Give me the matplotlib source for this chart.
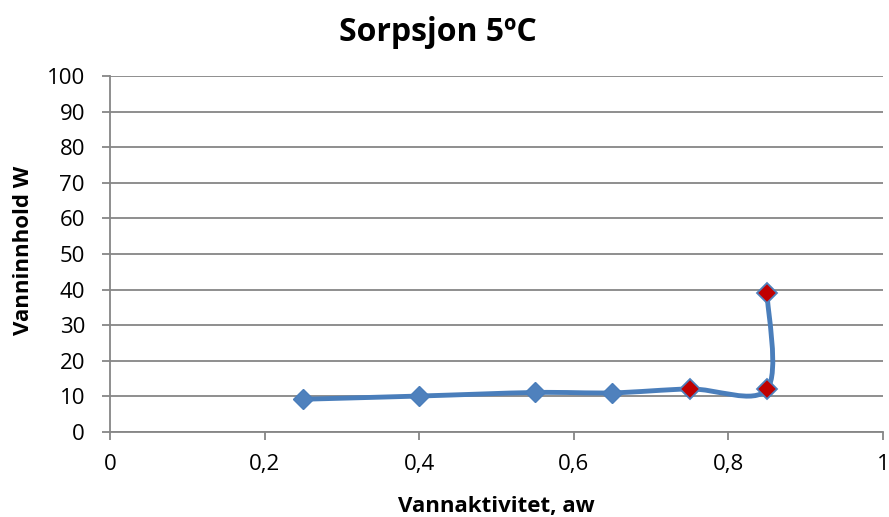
import numpy as np
import matplotlib.pyplot as plt
from matplotlib.path import Path
from matplotlib.patches import PathPatch

# data
aw = [0.25, 0.40, 0.55, 0.65, 0.75, 0.85, 0.85]
w = [9.2, 10.1, 11.1, 11.0, 12.1, 12.0, 39.0]
red_idx = [4, 5, 6]

plt.rcParams['font.family'] = ['Open Sans', 'DejaVu Sans']

fig = plt.figure(figsize=(8.89, 5.17), dpi=100)
ax = fig.add_axes([110 / 889, 85 / 517, 773 / 889, 356 / 517])

# Excel-like smoothed line (Catmull-Rom as cubic Bezier)
pts = np.column_stack([aw, w])
n = len(pts)
verts = [pts[0]]
codes = [Path.MOVETO]
for i in range(n - 1):
    p0 = pts[i - 1] if i > 0 else pts[i]
    p1 = pts[i]
    p2 = pts[i + 1]
    p3 = pts[i + 2] if i + 2 < n else pts[i + 1]
    c1 = p1 + (p2 - p0) / 6
    c2 = p2 - (p3 - p1) / 6
    verts += [c1, c2, p2]
    codes += [Path.CURVE4] * 3
ax.add_patch(PathPatch(Path(verts, codes), fill=False, edgecolor='#4A7EBB',
                       lw=3.5, zorder=3, capstyle='round', joinstyle='round'))

blue_idx = [i for i in range(n) if i not in red_idx]
ax.plot([aw[i] for i in blue_idx], [w[i] for i in blue_idx], ls='none', marker='D',
        ms=10.5, mfc='#4F81BD', mec='#4A7EBB', mew=1, zorder=4)
ax.plot([aw[i] for i in red_idx], [w[i] for i in red_idx], ls='none', marker='D',
        ms=10.5, mfc='#C00000', mec='#4F81BD', mew=1.3, zorder=4)

ax.set_xlim(0, 1)
ax.set_ylim(0, 100)
ax.set_xticks(np.arange(0, 1.01, 0.2))
ax.set_xticklabels(['0', '0,2', '0,4', '0,6', '0,8', '1'])
ax.set_yticks(range(0, 101, 10))
ax.yaxis.grid(True, color='#868686', lw=1.3)
ax.set_axisbelow(True)
for s in ['top', 'right']:
    ax.spines[s].set_visible(False)
for s in ['left', 'bottom']:
    ax.spines[s].set_color('#868686')
    ax.spines[s].set_linewidth(1.3)
ax.tick_params(axis='both', colors='#868686', labelcolor='black', labelsize=16,
               length=6, width=1.3, direction='out')
ax.tick_params(axis='x', pad=10)
ax.tick_params(axis='y', pad=12)

fig.text(438 / 889, 1 - 41 / 517, 'Sorpsjon 5ºC', fontsize=23, fontweight='bold',
         ha='center', va='baseline')
fig.text(496 / 889, 1 - 512 / 517, 'Vannaktivitet, aw', fontsize=16, fontweight='bold',
         ha='center', va='baseline')
fig.text(24 / 889, 1 - 250 / 517, 'Vanninnhold W', fontsize=16, fontweight='bold',
         ha='center', va='center', rotation=90)

fig.savefig('out.png', dpi=100)
